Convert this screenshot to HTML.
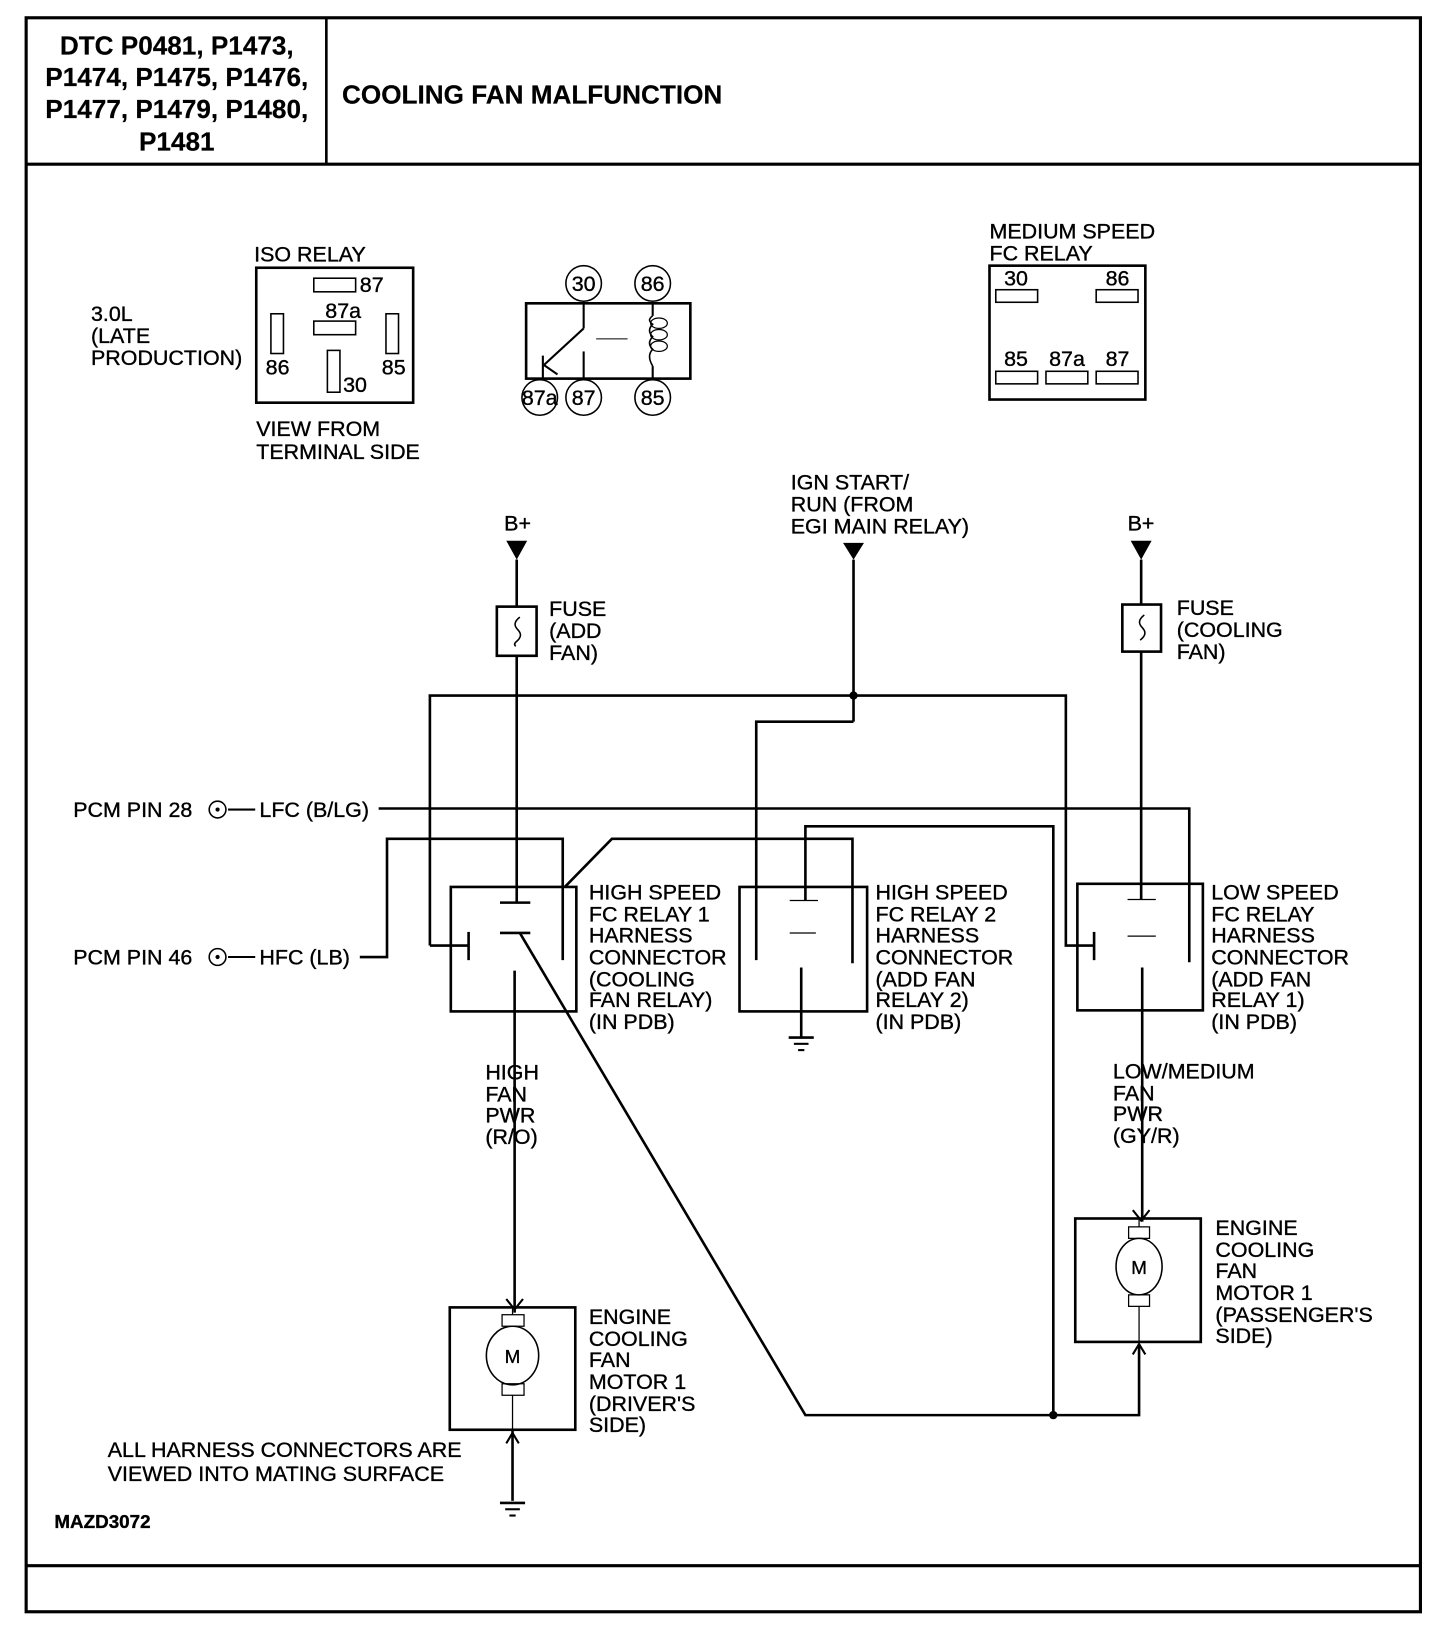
<!DOCTYPE html>
<html><head><meta charset="utf-8"><style>
html,body{margin:0;padding:0;background:#fff;}
svg{display:block;}
text{font-family:"Liberation Sans",Arial,sans-serif;fill:#000;font-size:20.5px;stroke:#000;stroke-width:0.35px;}
.b{font-weight:bold;font-size:25px;stroke-width:0.2px;}
</style></head><body>
<svg width="1456" height="1640" viewBox="0 0 1392 1568" preserveAspectRatio="none" xmlns="http://www.w3.org/2000/svg">
<g fill="none" stroke="#000">
<rect x="25" y="17" width="1333" height="1524" stroke-width="3"/>
<line x1="25" y1="157" x2="1358" y2="157" stroke-width="3"/>
<line x1="312" y1="17" x2="312" y2="157" stroke-width="2.5"/>
<line x1="25" y1="1497" x2="1358" y2="1497" stroke-width="3"/>

<rect x="245" y="256" width="150" height="129" stroke-width="2.5"/>
<g stroke-width="1.5">
<rect x="300" y="266" width="40" height="13"/>
<rect x="300" y="307" width="40" height="13"/>
<rect x="259" y="300" width="12" height="38"/>
<rect x="369" y="300" width="12" height="38"/>
<rect x="313" y="335" width="12" height="40"/>
</g>

<rect x="503" y="290" width="157" height="72" stroke-width="2.5"/>
<g stroke-width="1.5">
<circle cx="558" cy="271" r="17"/><circle cx="624" cy="271" r="17"/>
<circle cx="516" cy="380" r="17"/><circle cx="558" cy="380" r="17"/><circle cx="624" cy="380" r="17"/>
</g>
<g stroke-width="2">
<line x1="558" y1="290" x2="558" y2="314"/>
<line x1="558" y1="314" x2="520" y2="349"/>
<line x1="520" y1="349" x2="533" y2="358"/>
<line x1="519" y1="340" x2="519" y2="362"/>
<line x1="558" y1="336" x2="558" y2="362"/>
<line x1="624" y1="290" x2="624" y2="302"/>
<line x1="624" y1="350" x2="624" y2="362"/>
<line x1="570" y1="324" x2="600" y2="324" stroke-width="1"/>
<path d="M624 302 q-6 4 0 8 q-6 6 0 12 q-6 6 0 12 q-6 6 0 16" stroke-width="1.5"/>
<ellipse cx="630" cy="309" rx="8" ry="5" stroke-width="1.2"/>
<ellipse cx="630" cy="320" rx="8" ry="5" stroke-width="1.2"/>
<ellipse cx="630" cy="331" rx="8" ry="5" stroke-width="1.2"/>
</g>

<rect x="946" y="254" width="149" height="128" stroke-width="2.5"/>
<g stroke-width="1.5">
<rect x="952" y="277" width="40" height="12"/>
<rect x="1048" y="277" width="40" height="12"/>
<rect x="952" y="355" width="40" height="12"/>
<rect x="1000" y="355" width="40" height="12"/>
<rect x="1048" y="355" width="40" height="12"/>
</g>

<g stroke-width="2.5">
<line x1="494" y1="535" x2="494" y2="580"/>
<rect x="475" y="580" width="38" height="47"/>
<line x1="494" y1="627" x2="494" y2="863"/>
<line x1="478" y1="863" x2="507" y2="863"/>
<line x1="478" y1="892" x2="507" y2="892"/>

<line x1="816" y1="535" x2="816" y2="690"/>
<polyline points="411,904 411,665 1019,665 1019,904 1046,904"/>
<polyline points="816,690 723,690 723,918"/>

<line x1="1091" y1="535" x2="1091" y2="578"/>
<rect x="1073" y="578" width="37" height="45"/>
<line x1="1091" y1="623" x2="1091" y2="860"/>

<polyline points="362,773 1137,773 1137,920"/>
<polyline points="344,915 370,915 370,802 538,802 538,918"/>
<polyline points="540,848 585,802 815,802 815,921"/>
<polyline points="770,861 770,790 1007,790 1007,1353"/>

<polyline points="411,904 448,904"/>
<line x1="448" y1="891" x2="448" y2="918"/>
<line x1="1046" y1="891" x2="1046" y2="918"/>

<rect x="431" y="848" width="120" height="119"/>
<rect x="707" y="848" width="122" height="119"/>
<rect x="1030" y="845" width="120" height="121"/>

<line x1="492" y1="928" x2="492" y2="1255"/>
<polyline points="497,892 770,1353 1089,1353 1089,1285"/>
<line x1="1092" y1="925" x2="1092" y2="1168"/>
<line x1="766" y1="925" x2="766" y2="992"/>

<rect x="430" y="1250" width="120" height="117"/>
<rect x="1028" y="1165" width="120" height="118"/>
<line x1="490" y1="1367" x2="490" y2="1435"/>
</g>
<g stroke-width="1.2">
<line x1="755" y1="892" x2="780" y2="892"/>
<line x1="755" y1="861" x2="782" y2="861"/>
<line x1="1078" y1="860" x2="1105" y2="860"/>
<line x1="1078" y1="895" x2="1105" y2="895"/>
<line x1="754" y1="992" x2="778" y2="992" stroke-width="2.5"/><line x1="759" y1="998" x2="773" y2="998" stroke-width="2"/><line x1="763" y1="1004" x2="769" y2="1004" stroke-width="2"/>
<line x1="478" y1="1437" x2="502" y2="1437" stroke-width="2.5"/><line x1="483" y1="1443" x2="497" y2="1443" stroke-width="2"/><line x1="487" y1="1449" x2="493" y2="1449" stroke-width="2"/>
<polyline points="484,1242 492,1252 500,1242" stroke-width="2"/>
<polyline points="484,1380 490,1370 496,1380" stroke-width="2"/>
<polyline points="1083,1157 1091,1167 1099,1157" stroke-width="2"/>
<polyline points="1083,1295 1089,1285 1095,1295" stroke-width="2"/>
<ellipse cx="490" cy="1296" rx="25" ry="28" stroke-width="1.5"/>
<rect x="480" y="1257" width="21" height="11"/><rect x="480" y="1323" width="21" height="11"/>
<line x1="490" y1="1250" x2="490" y2="1257"/><line x1="490" y1="1334" x2="490" y2="1367"/>
<ellipse cx="1089" cy="1211" rx="22" ry="27" stroke-width="1.5"/>
<rect x="1079" y="1173" width="20" height="11"/><rect x="1079" y="1238" width="20" height="11"/>
<line x1="1089" y1="1165" x2="1089" y2="1173"/><line x1="1089" y1="1249" x2="1089" y2="1283"/>
<path d="M497 590 q-8 6 -2 12 q6 6 -2 12 q-2 2 0 4" stroke-width="1.5"/>
<path d="M1094 588 q-8 6 -2 12 q6 6 -2 12" stroke-width="1.5"/>
<circle cx="208" cy="774" r="8" stroke-width="1.5"/><circle cx="208" cy="915" r="8" stroke-width="1.5"/>
<line x1="218" y1="774" x2="244" y2="774" stroke-width="2"/>
<line x1="218" y1="915" x2="244" y2="915" stroke-width="2"/>
</g>
</g>
<g fill="#000">
<polygon points="484,517 504,517 494,535"/>
<polygon points="806,519 826,519 816,535"/>
<polygon points="1081,517 1101,517 1091,535"/>
<circle cx="816" cy="665" r="4"/>
<circle cx="1007" cy="1353" r="4"/>
<circle cx="208" cy="774" r="2"/><circle cx="208" cy="915" r="2"/>
</g>

<g text-anchor="middle">
<text class="b" x="169" y="52">DTC P0481, P1473,</text>
<text class="b" x="169" y="82">P1474, P1475, P1476,</text>
<text class="b" x="169" y="113">P1477, P1479, P1480,</text>
<text class="b" x="169" y="144">P1481</text>
</g>
<text class="b" x="327" y="99">COOLING FAN MALFUNCTION</text>

<text x="243" y="250">ISO RELAY</text>
<text x="344" y="279">87</text>
<text x="311" y="304">87a</text>
<text x="254" y="358">86</text>
<text x="365" y="358">85</text>
<text x="328" y="375">30</text>
<text x="87" y="307">3.0L</text>
<text x="87" y="328">(LATE</text>
<text x="87" y="349">PRODUCTION)</text>
<text x="245" y="417">VIEW FROM</text>
<text x="245" y="439">TERMINAL SIDE</text>

<g text-anchor="middle">
<text x="558" y="278">30</text><text x="624" y="278">86</text>
<text x="516" y="387">87a</text><text x="558" y="387">87</text><text x="624" y="387">85</text>
</g>

<text x="946" y="228">MEDIUM SPEED</text>
<text x="946" y="249">FC RELAY</text>
<text x="960" y="273">30</text><text x="1057" y="273">86</text>
<text x="960" y="350">85</text><text x="1003" y="350">87a</text><text x="1057" y="350">87</text>

<text x="482" y="507">B+</text>
<text x="1078" y="507">B+</text>
<text x="756" y="468">IGN START/</text>
<text x="756" y="489">RUN (FROM</text>
<text x="756" y="510">EGI MAIN RELAY)</text>
<text x="525" y="589">FUSE</text><text x="525" y="610">(ADD</text><text x="525" y="631">FAN)</text>
<text x="1125" y="588">FUSE</text><text x="1125" y="609">(COOLING</text><text x="1125" y="630">FAN)</text>

<text x="70" y="781">PCM PIN 28</text>
<text x="248" y="781">LFC (B/LG)</text>
<text x="70" y="922">PCM PIN 46</text>
<text x="248" y="922">HFC (LB)</text>

<text x="563" y="860">HIGH SPEED</text><text x="563" y="881">FC RELAY 1</text><text x="563" y="901">HARNESS</text><text x="563" y="922">CONNECTOR</text><text x="563" y="943">(COOLING</text><text x="563" y="963">FAN RELAY)</text><text x="563" y="984">(IN PDB)</text>
<text x="837" y="860">HIGH SPEED</text><text x="837" y="881">FC RELAY 2</text><text x="837" y="901">HARNESS</text><text x="837" y="922">CONNECTOR</text><text x="837" y="943">(ADD FAN</text><text x="837" y="963">RELAY 2)</text><text x="837" y="984">(IN PDB)</text>
<text x="1158" y="860">LOW SPEED</text><text x="1158" y="881">FC RELAY</text><text x="1158" y="901">HARNESS</text><text x="1158" y="922">CONNECTOR</text><text x="1158" y="943">(ADD FAN</text><text x="1158" y="963">RELAY 1)</text><text x="1158" y="984">(IN PDB)</text>

<text x="464" y="1032">HIGH</text><text x="464" y="1053">FAN</text><text x="464" y="1073">PWR</text><text x="464" y="1094">(R/O)</text>
<text x="1064" y="1031">LOW/MEDIUM</text><text x="1064" y="1052">FAN</text><text x="1064" y="1072">PWR</text><text x="1064" y="1093">(GY/R)</text>

<text x="563" y="1266">ENGINE</text><text x="563" y="1287">COOLING</text><text x="563" y="1307">FAN</text><text x="563" y="1328">MOTOR 1</text><text x="563" y="1349">(DRIVER'S</text><text x="563" y="1369">SIDE)</text>
<text x="1162" y="1181">ENGINE</text><text x="1162" y="1202">COOLING</text><text x="1162" y="1222">FAN</text><text x="1162" y="1243">MOTOR 1</text><text x="1162" y="1264">(PASSENGER'S</text><text x="1162" y="1284">SIDE)</text>
<text x="490" y="1303" text-anchor="middle" style="font-size:18px">M</text>
<text x="1089" y="1218" text-anchor="middle" style="font-size:18px">M</text>

<text x="103" y="1393">ALL HARNESS CONNECTORS ARE</text>
<text x="103" y="1416">VIEWED INTO MATING SURFACE</text>
<text x="52" y="1461" style="font-weight:bold;font-size:18px">MAZD3072</text>
</svg>
</body></html>
